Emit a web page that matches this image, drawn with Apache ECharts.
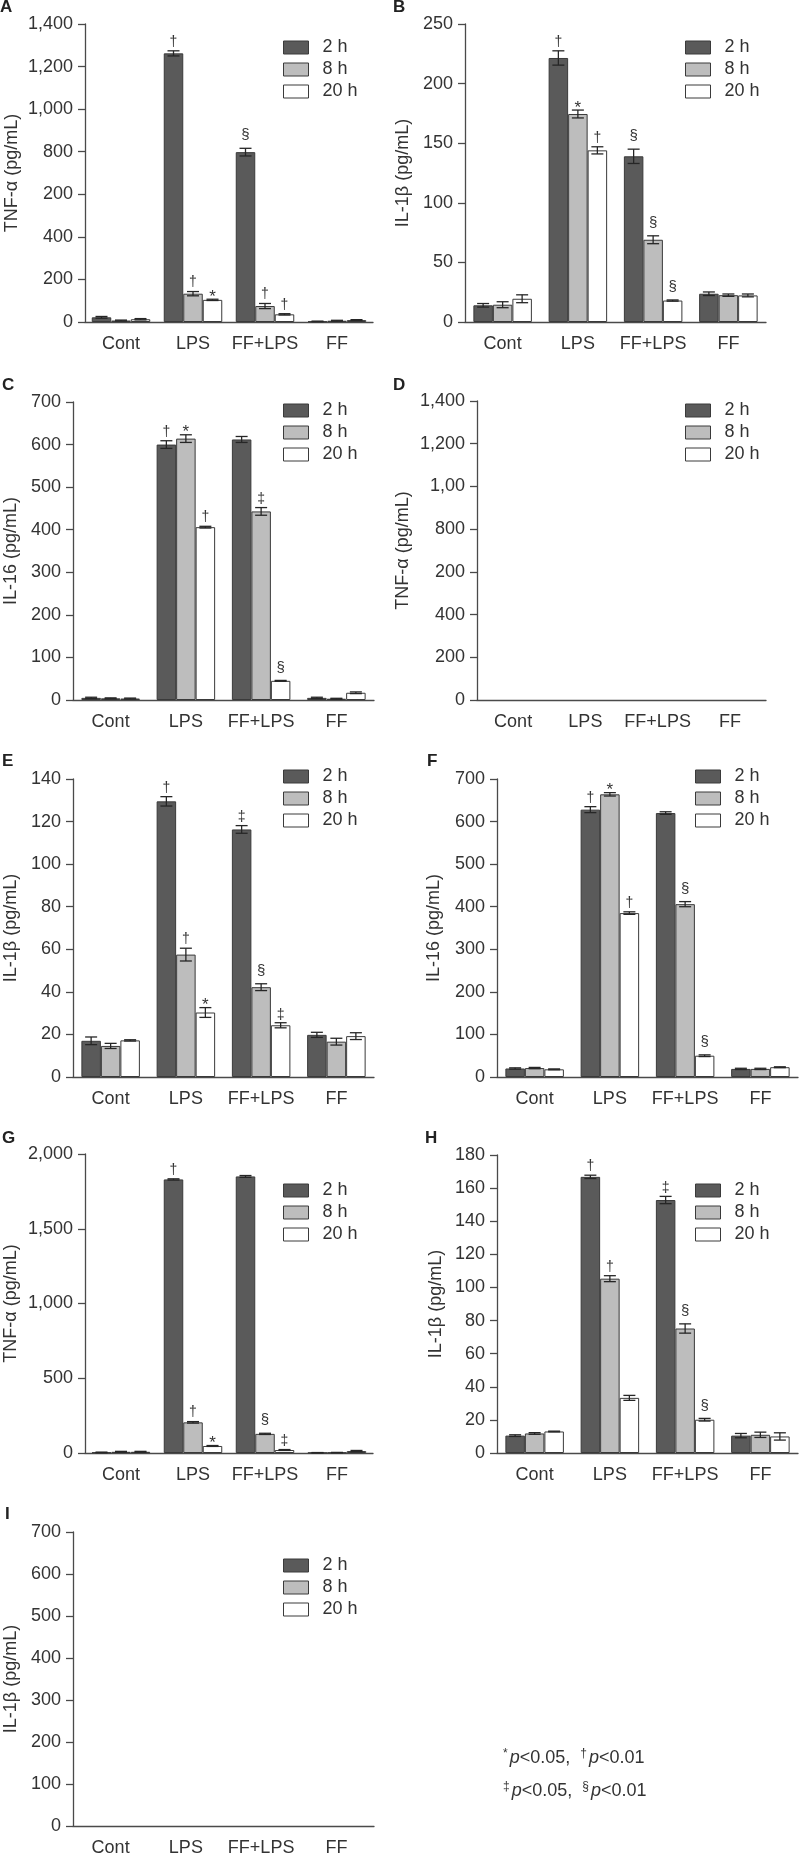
<!DOCTYPE html>
<html><head><meta charset="utf-8">
<script src="https://cdn.jsdelivr.net/npm/echarts@6/dist/echarts.min.js"></script>
<style>html,body{margin:0;padding:0;background:#fff}#c{width:799px;height:1857px}</style>
</head><body><div id="c"></div>
<script>
const categories = ['Cont', 'LPS', 'FF+LPS', 'FF'];
const timeNames = ['2 h', '8 h', '20 h'];

// Panel A - TNF-α
const A_2h = [22, 1262, 798, 3];
const A_8h = [7, 133, 75, 6];
const A_20h = [13, 104, 36, 9];
const A_err2h = [4, 12, 18, 1];
const A_err8h = [2, 10, 12, 2];
const A_err20h = [3, 3, 3, 2];
const A_mark2h = ['', '†', '§', ''];
const A_mark8h = ['', '†', '†', ''];
const A_mark20h = ['', '*', '†', ''];
const A_ticks = ['0', '200', '400', '200', '800', '1,000', '1,200', '1,400'];

// Panel B - IL-1β
const B_2h = [14, 221.5, 139, 23.7];
const B_8h = [14.5, 174.5, 69, 22.5];
const B_20h = [19.5, 144, 18, 22.3];
const B_err2h = [1.5, 6, 6, 1.5];
const B_err8h = [2.5, 3.3, 3.3, 1];
const B_err20h = [3.3, 3, 0.5, 1.2];
const B_mark2h = ['', '†', '§', ''];
const B_mark8h = ['', '*', '§', ''];
const B_mark20h = ['', '†', '§', ''];
const B_ticks = ['0', '50', '100', '150', '200', '250'];

// Panel C - IL-16
const C_2h = [5, 600, 612, 5];
const C_8h = [4, 614, 443, 3];
const C_20h = [3.5, 406, 45, 17];
const C_err2h = [1.5, 9, 7, 1.5];
const C_err8h = [1, 9, 9, 1];
const C_err20h = [1, 2, 1, 2];
const C_mark2h = ['', '†', '', ''];
const C_mark8h = ['', '*', '‡', ''];
const C_mark20h = ['', '†', '§', ''];
const C_ticks = ['0', '100', '200', '300', '400', '500', '600', '700'];

// Panel D - TNF-α (no bars)
const D_ticks = ['0', '200', '400', '200', '800', '1,00', '1,200', '1,400'];

// Panel E - IL-1β
const E_2h = [17, 129.5, 116.3, 19.8];
const E_8h = [14.6, 57.5, 42.2, 16.6];
const E_20h = [17.2, 30.3, 24.3, 19.2];
const E_err2h = [1.8, 2.2, 1.8, 1.2];
const E_err8h = [1.2, 3, 1.6, 1.6];
const E_err20h = [0.3, 2.3, 1.2, 1.6];
const E_mark2h = ['', '†', '‡', ''];
const E_mark8h = ['', '†', '§', ''];
const E_mark20h = ['', '*', '‡', ''];
const E_ticks = ['0', '20', '40', '60', '80', '100', '120', '140'];

// Panel F - IL-16
const F_2h = [20, 628, 620, 19];
const F_8h = [21, 664, 406, 19];
const F_20h = [18, 385, 50, 23];
const F_err2h = [1.5, 7, 3, 1.5];
const F_err8h = [1.5, 4, 6, 1.5];
const F_err20h = [1, 3, 2, 1];
const F_mark2h = ['', '†', '', ''];
const F_mark8h = ['', '*', '§', ''];
const F_mark20h = ['', '†', '§', ''];
const F_ticks = ['0', '100', '200', '300', '400', '500', '600', '700'];

// Panel G - TNF-α
const G_2h = [4, 1830, 1850, 2];
const G_8h = [8, 205, 128, 3];
const G_20h = [8, 47, 20, 13];
const G_err2h = [2, 4, 6, 1];
const G_err8h = [3, 5, 4, 1];
const G_err20h = [3, 3, 3, 4];
const G_mark2h = ['', '†', '', ''];
const G_mark8h = ['', '†', '§', ''];
const G_mark20h = ['', '*', '‡', ''];
const G_ticks = ['0', '500', '1,000', '1,500', '2,000'];

// Panel H - IL-1β
const H_2h = [10.5, 166.8, 152.8, 10.5];
const H_8h = [11.8, 105.3, 75.2, 11];
const H_20h = [13, 33.3, 20.1, 10];
const H_err2h = [0.5, 1, 2.2, 1.3];
const H_err8h = [0.5, 1.8, 2.8, 1.6];
const H_err20h = [0.2, 1.5, 0.8, 2.2];
const H_mark2h = ['', '†', '‡', ''];
const H_mark8h = ['', '†', '§', ''];
const H_mark20h = ['', '', '§', ''];
const H_ticks = ['0', '20', '40', '60', '80', '100', '120', '140', '160', '180'];

// Panel I - IL-1β (no bars)
const I_ticks = ['0', '100', '200', '300', '400', '500', '600', '700'];

const footLine1 = ['*', 'p', '<0.05,  ', '†', 'p', '<0.01'];
const footLine2 = ['‡', 'p', '<0.05,  ', '§', 'p', '<0.01'];

// ---------- styling / layout ----------
const FONT = 'Liberation Sans, Arial, sans-serif';
const TXT = '#333';
const AXC = '#4a4a4a';
const BAR_W = 19.5;
const COLORS = ['#5a5a5a', '#bdbdbd', '#ffffff'];
const BORDER = '#3a3a3a';
const markStyle = {
  '†': { size: 14, off: 9 },
  '‡': { size: 14, off: 8 },
  '§': { size: 15, off: 13 },
  '*': { size: 17, off: 2 }
};

const panels = [
  { id: 'A', grid: [85, 24, 288, 298], max: 1400, step: 200, ticks: A_ticks, title: 'TNF-α (pg/mL)', gap: 64, leg: [278, 33.5], letter: [0, 9],
    vals: [A_2h, A_8h, A_20h], errs: [A_err2h, A_err8h, A_err20h], marks: [A_mark2h, A_mark8h, A_mark20h] },
  { id: 'B', grid: [465, 24, 301, 298], max: 250, step: 50, ticks: B_ticks, title: 'IL-1β (pg/mL)', gap: 53, leg: [680, 33.5], letter: [393, 9],
    vals: [B_2h, B_8h, B_20h], errs: [B_err2h, B_err8h, B_err20h], marks: [B_mark2h, B_mark8h, B_mark20h] },
  { id: 'C', grid: [73, 402, 301, 298], max: 700, step: 100, ticks: C_ticks, title: 'IL-16 (pg/mL)', gap: 53, leg: [278, 396.5], letter: [2, 387],
    vals: [C_2h, C_8h, C_20h], errs: [C_err2h, C_err8h, C_err20h], marks: [C_mark2h, C_mark8h, C_mark20h] },
  { id: 'D', grid: [477, 401, 289, 299], max: 1400, step: 200, ticks: D_ticks, title: 'TNF-α (pg/mL)', gap: 65, leg: [680, 396.5], letter: [393, 387] },
  { id: 'E', grid: [73, 779, 301, 298], max: 140, step: 20, ticks: E_ticks, title: 'IL-1β (pg/mL)', gap: 53, leg: [278, 762.5], letter: [2, 763],
    vals: [E_2h, E_8h, E_20h], errs: [E_err2h, E_err8h, E_err20h], marks: [E_mark2h, E_mark8h, E_mark20h] },
  { id: 'F', grid: [497, 779, 301, 298], max: 700, step: 100, ticks: F_ticks, title: 'IL-16 (pg/mL)', gap: 54, leg: [690, 762.5], letter: [427, 763],
    vals: [F_2h, F_8h, F_20h], errs: [F_err2h, F_err8h, F_err20h], marks: [F_mark2h, F_mark8h, F_mark20h] },
  { id: 'G', grid: [85, 1154, 288, 299], max: 2000, step: 500, ticks: G_ticks, title: 'TNF-α (pg/mL)', gap: 65, leg: [278, 1176.5], letter: [2, 1140],
    vals: [G_2h, G_8h, G_20h], errs: [G_err2h, G_err8h, G_err20h], marks: [G_mark2h, G_mark8h, G_mark20h] },
  { id: 'H', grid: [497, 1155, 301, 298], max: 180, step: 20, ticks: H_ticks, title: 'IL-1β (pg/mL)', gap: 52, leg: [690, 1176.5], letter: [425, 1140],
    vals: [H_2h, H_8h, H_20h], errs: [H_err2h, H_err8h, H_err20h], marks: [H_mark2h, H_mark8h, H_mark20h] },
  { id: 'I', grid: [73, 1532, 301, 299], max: 700, step: 100, ticks: I_ticks, title: 'IL-1β (pg/mL)', gap: 53, leg: [278, 1551.5], letter: [5, 1516] }
];

const option = { animation: false, backgroundColor: '#fff', grid: [], xAxis: [], yAxis: [], series: [], legend: [], graphic: [] };

panels.forEach((p, gi) => {
  option.grid.push({ left: p.grid[0], top: p.grid[1], width: p.grid[2], height: p.grid[3], containLabel: false });
  option.xAxis.push({
    type: 'category', gridIndex: gi, data: categories,
    axisLine: { lineStyle: { color: AXC, width: 1.3 } },
    axisTick: { length: 6, lineStyle: { color: AXC, width: 1.3 } },
    axisLabel: { color: TXT, fontSize: 18, fontFamily: FONT, margin: 13, interval: 0 },
    splitLine: { show: false }
  });
  const ticks = p.ticks, step = p.step;
  option.yAxis.push({
    type: 'value', gridIndex: gi, min: 0, max: p.max, interval: step,
    name: p.title, nameLocation: 'middle', nameGap: p.gap,
    nameTextStyle: { color: TXT, fontSize: 18, fontFamily: FONT },
    axisLine: { show: true, lineStyle: { color: AXC, width: 1.3 } },
    axisTick: { show: true, length: 7, lineStyle: { color: AXC, width: 1.3 } },
    axisLabel: { color: TXT, fontSize: 18, fontFamily: FONT, margin: 12,
      formatter: v => ticks[Math.round(v / step)] },
    splitLine: { show: false }
  });
  option.legend.push({
    orient: 'vertical', left: p.leg[0], top: p.leg[1], itemWidth: 25, itemHeight: 13, itemGap: 4,
    icon: 'rect', selectedMode: false,
    textStyle: { color: TXT, fontSize: 18, fontFamily: FONT, padding: [0, 0, 0, 9] },
    data: timeNames.map((n, k) => ({ name: n, itemStyle: { color: COLORS[k], borderColor: BORDER, borderWidth: 1 } }))
  });
  option.graphic.push({
    type: 'text', left: p.letter[0], top: p.letter[1] - 10,
    style: { text: p.id, fontSize: 17, fontWeight: 'bold', fontFamily: FONT, fill: '#222' }
  });

  const vals = p.vals || [[], [], []];
  timeNames.forEach((n, k) => {
    option.series.push({
      type: 'bar', name: n, xAxisIndex: gi, yAxisIndex: gi, data: vals[k],
      barWidth: BAR_W, barGap: '0%',
      itemStyle: { color: COLORS[k], borderColor: BORDER, borderWidth: 1 },
      emphasis: { disabled: true }
    });
  });
  if (p.vals) {
    const items = [];
    for (let s = 0; s < 3; s++) for (let c = 0; c < 4; c++) items.push([c, s, p.vals[s][c], p.errs[s][c]]);
    const marks = p.marks;
    option.series.push({
      type: 'custom', name: 'err-' + p.id, xAxisIndex: gi, yAxisIndex: gi, z: 5,
      encode: { x: 0, y: 2 }, data: items, silent: true,
      renderItem: function (params, api) {
        const c = api.value(0), s = api.value(1), v = api.value(2), e = api.value(3);
        const x = api.coord([c, v])[0] + (s - 1) * BAR_W;
        const yTop = api.coord([c, v + e])[1];
        const yBot = api.coord([c, Math.max(0, v - e)])[1];
        const ls = { stroke: '#262626', lineWidth: 1.3 };
        const ch = [
          { type: 'line', shape: { x1: x, y1: yTop, x2: x, y2: yBot }, style: ls },
          { type: 'line', shape: { x1: x - 6, y1: yTop, x2: x + 6, y2: yTop }, style: ls },
          { type: 'line', shape: { x1: x - 6, y1: yBot, x2: x + 6, y2: yBot }, style: ls }
        ];
        const mk = marks[s][c];
        if (mk) {
          const ms = markStyle[mk];
          ch.push({ type: 'text', x: x, y: yTop - ms.off,
            style: { text: mk, fontSize: ms.size, fontFamily: FONT, fill: '#333', align: 'center', verticalAlign: 'middle' } });
        }
        return { type: 'group', children: ch };
      }
    });
  }
});

const rich = {
  s: { fontSize: 12, fontFamily: FONT, fill: '#333', verticalAlign: 'top', padding: [0, 2, 8, 0] },
  i: { fontSize: 18, fontFamily: FONT, fontStyle: 'italic', fill: '#333' },
  n: { fontSize: 18, fontFamily: FONT, fill: '#333' }
};
function footText(a) {
  return '{s|' + a[0] + '}{i|' + a[1] + '}{n|' + a[2] + '}{s|' + a[3] + '}{i|' + a[4] + '}{n|' + a[5] + '}';
}
option.graphic.push({ type: 'text', left: 503, top: 1748, style: { text: footText(footLine1), rich: rich, fill: '#333' } });
option.graphic.push({ type: 'text', left: 503, top: 1781, style: { text: footText(footLine2), rich: rich, fill: '#333' } });

const chart = echarts.init(document.getElementById('c'), null, { renderer: 'canvas', width: 799, height: 1857 });
chart.setOption(option);
</script>
</body></html>
